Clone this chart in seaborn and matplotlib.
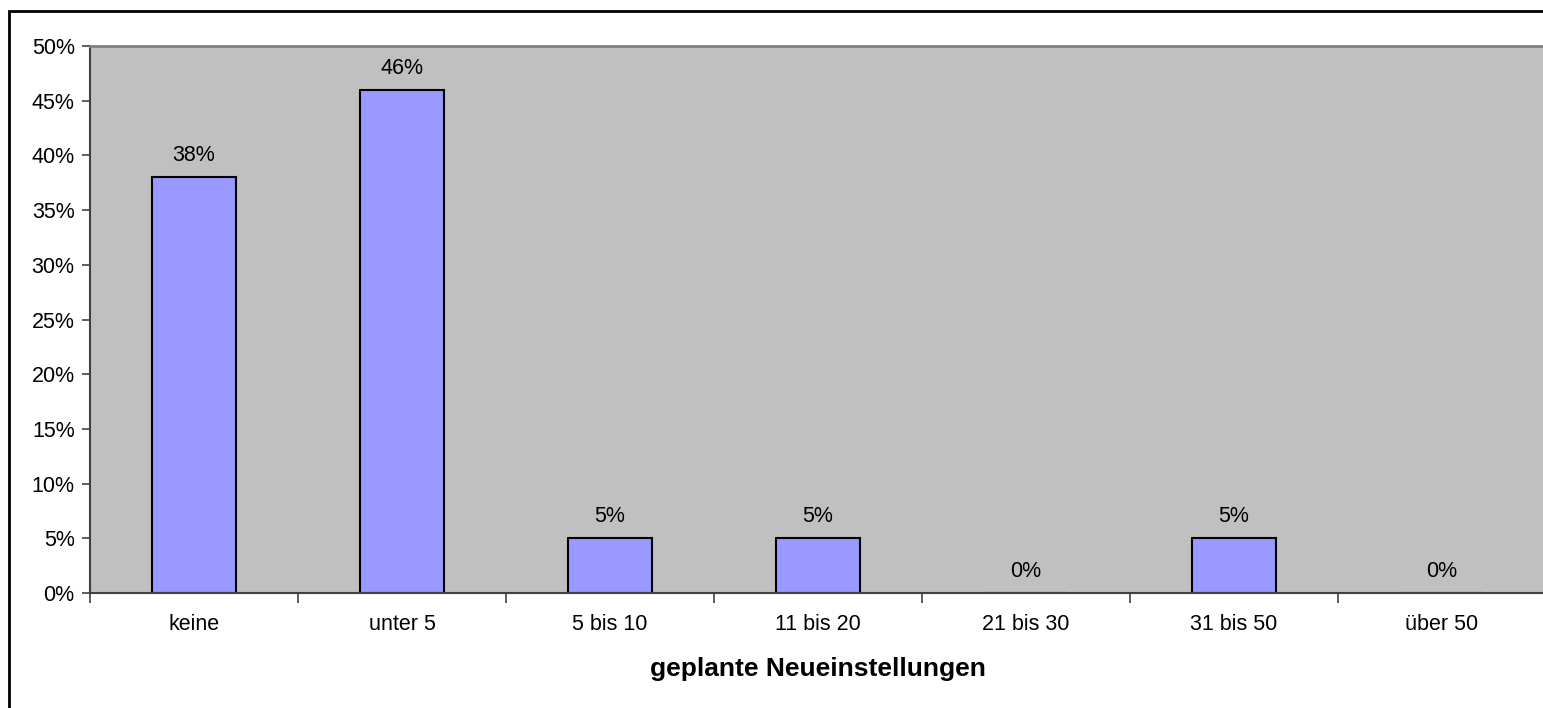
import matplotlib
matplotlib.use("Agg")
import matplotlib.pyplot as plt
import seaborn as sns
import numpy as np
from matplotlib.patches import Rectangle
from matplotlib.ticker import FixedLocator, FuncFormatter

categories = ["keine", "unter 5", "5 bis 10", "11 bis 20", "21 bis 30", "31 bis 50", "über 50"]
values = [38, 46, 5, 5, 0, 5, 0]
x_label = "geplante Neueinstellungen"

sns.set_style("white")
plt.rcParams["font.family"] = ["Liberation Sans", "DejaVu Sans"]
plt.rcParams["text.color"] = "black"
plt.rcParams["xtick.labelcolor"] = "black"
plt.rcParams["ytick.labelcolor"] = "black"
plt.rcParams["axes.labelcolor"] = "black"

W, H = 1543, 708
fig = plt.figure(figsize=(W / 100, H / 100), dpi=100)
left, right, top, bottom = 90, 1546, 46, 593
ax = fig.add_axes([left / W, 1 - bottom / H, (right - left) / W, (bottom - top) / H])

sns.barplot(x=categories, y=values, color="#9999FF", width=0.4,
            edgecolor="black", linewidth=1.5, saturation=1, ax=ax)

ax.set_facecolor("#C0C0C0")
ax.set_xlim(-0.5, len(categories) - 0.5)
ax.set_ylim(0, 50)
ax.yaxis.set_major_locator(FixedLocator(np.arange(0, 51, 5)))
ax.yaxis.set_major_formatter(FuncFormatter(lambda v, p: f"{int(v)}%"))

for i, v in enumerate(values):
    ax.annotate(f"{v}%", (i, v), xytext=(0, 8), textcoords="offset points",
                ha="center", va="bottom", fontsize=15.5, color="black")

ax.spines["right"].set_visible(False)
ax.spines["top"].set_color("#808080")
ax.spines["top"].set_linewidth(2)
ax.spines["left"].set_color("#404040")
ax.spines["left"].set_linewidth(1.5)
ax.spines["bottom"].set_color("#404040")
ax.spines["bottom"].set_linewidth(1.5)

ax.tick_params(axis="y", which="major", direction="out", length=6, width=1.2,
               color="#404040", labelsize=15.5, pad=5, left=True, labelcolor="black")
ax.tick_params(axis="x", which="major", length=0, labelsize=15.5, pad=15, bottom=True,
               labelcolor="black")
ax.xaxis.set_minor_locator(FixedLocator(np.arange(-0.5, len(categories), 1)))
ax.tick_params(axis="x", which="minor", direction="out", length=7, width=1.2,
               color="#404040", bottom=True)

ax.set_xlabel(x_label, fontsize=19, fontweight="bold", labelpad=16, color="black")
ax.set_ylabel("")

fig.patches.append(Rectangle((9 / W, -0.1), 1.2, 1.1 - 11 / H, transform=fig.transFigure,
                             fill=False, edgecolor="black", linewidth=2, zorder=10))

fig.savefig("out.png", dpi=100, facecolor="white")
